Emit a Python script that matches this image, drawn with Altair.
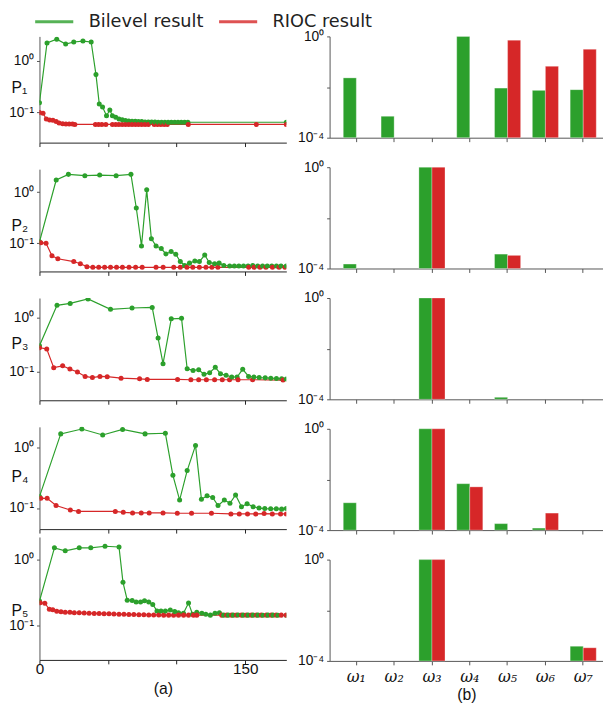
import altair as alt
import pandas as pd

SERIES = ["Bilevel result", "RIOC result"]
COLORS = ["#2ca02c", "#d62728"]
CATS = ["ω₁", "ω₂", "ω₃", "ω₄", "ω₅", "ω₆", "ω₇"]
PANEL_NAMES = ["P₁", "P₂", "P₃", "P₄", "P₅"]

# ---------------- left column: convergence curves ----------------
p1_green_t = [0, 5.5, 12.6, 19.1, 25.0, 31.7, 37.7, 41.2, 43.6, 46.0, 48.9, 51.3, 53.2, 55.6, 58.0, 60.4, 62.7,
              65.1, 67.5, 69.9, 72.2, 74.6, 77.0, 79.4, 81.8, 84.2, 86.6, 89.0, 91.4, 93.8, 96.2, 98.6, 101.0,
              103.4, 105.8, 108.2, 180]
p1_green_v = [0.155, 2.2, 2.6, 2.1, 2.3, 2.4, 2.3, 0.54, 0.147, 0.128, 0.087, 0.112, 0.087, 0.081, 0.075, 0.073, 0.070,
              0.069, 0.068, 0.068, 0.067, 0.067, 0.066, 0.066, 0.066, 0.066, 0.065, 0.065, 0.065, 0.065, 0.065, 0.065,
              0.065, 0.065, 0.065, 0.065, 0.065]
p1_red_t = [0, 2.6, 5.0, 7.4, 9.8, 12.2, 14.3, 16.9, 19.3, 21.7, 24.1, 25.8, 40.8, 43.1, 45.5, 48.4, 53.2, 55.6,
            57.9, 60.3, 62.7, 65.1, 67.5, 69.9, 72.2, 74.6, 77.0, 79.4, 83.7, 86.1, 88.5, 90.9, 93.2, 108.5, 158.1, 180]
p1_red_v = [0.1, 0.097, 0.075, 0.072, 0.071, 0.067, 0.063, 0.061, 0.060, 0.060, 0.060, 0.059, 0.059, 0.059, 0.059,
            0.059, 0.059, 0.059, 0.059, 0.059, 0.059, 0.059, 0.059, 0.059, 0.059, 0.059, 0.059, 0.059, 0.059, 0.059,
            0.059, 0.059, 0.059, 0.059, 0.059, 0.059]

p2_green_t = [0, 12.2, 21.1, 33.1, 43.9, 55.9, 66.7, 70.6, 74.4, 78.2, 81.6, 85.0, 88.8, 92.2, 96.0, 99.4, 102.7,
              105.8, 109.4, 113.3, 116.6, 120.5, 123.8, 127.7, 131.0, 134.4, 138.7, 142.1, 145.4, 148.8, 152.1,
              155.5, 159.1, 162.7, 166.1, 169.4, 172.8, 176.1, 180]
p2_green_v = [0.107, 1.73, 2.23, 2.1, 2.16, 2.1, 2.23, 0.49, 0.089, 1.11, 0.123, 0.089, 0.079, 0.062, 0.069, 0.061,
              0.044, 0.037, 0.041, 0.045, 0.044, 0.059, 0.042, 0.040, 0.041, 0.037, 0.036, 0.036, 0.036, 0.036,
              0.036, 0.037, 0.036, 0.036, 0.036, 0.036, 0.036, 0.036, 0.036]
p2_red_t = [1, 4.8, 9.1, 13.4, 25.0, 29.8, 34.6, 38.9, 43.2, 47.5, 51.8, 56.2, 60.5, 65.3, 70.1, 74.9, 85.0, 90.2,
            97.9, 102.7, 107.5, 111.8, 116.6, 121.4, 125.7, 130.1, 152.6, 156.5, 160.8, 165.1, 169.9, 174.7, 179.0]
p2_red_v = [0.103, 0.1, 0.057, 0.05, 0.044, 0.040, 0.035, 0.034, 0.034, 0.034, 0.034, 0.034, 0.034, 0.034, 0.034,
            0.034, 0.034, 0.034, 0.034, 0.034, 0.034, 0.034, 0.034, 0.034, 0.034, 0.034, 0.034, 0.034, 0.034, 0.034,
            0.034, 0.034, 0.034]

p3_green_t = [0, 12.8, 22.4, 35.4, 51.8, 67.5, 82.2, 86.5, 90.1, 96.1, 103.6, 107.7, 112.0, 116.1, 120.0, 124.1,
              128.2, 132.0, 136.1, 140.2, 144.1, 148.2, 152.5, 156.4, 160.2, 164.6, 168.7, 172.8, 176.6, 180]
p3_green_v = [0.305, 1.68, 1.82, 2.2, 1.42, 1.5, 1.54, 0.42, 0.142, 0.95, 0.97, 0.115, 0.107, 0.11, 0.091, 0.097,
              0.122, 0.093, 0.087, 0.081, 0.081, 0.112, 0.083, 0.081, 0.079, 0.078, 0.077, 0.076, 0.075, 0.074]
p3_red_t = [0, 5.3, 10.4, 16.9, 22.2, 27.7, 33.3, 38.6, 44.1, 49.4, 59.5, 73.0, 78.6, 100.7, 110.4, 116.1, 121.7,
            127.7, 133.3, 138.6, 144.8, 155.4, 177.6]
p3_red_v = [0.28, 0.265, 0.12, 0.13, 0.113, 0.1, 0.083, 0.079, 0.083, 0.082, 0.077, 0.075, 0.073, 0.073, 0.072,
            0.072, 0.072, 0.072, 0.072, 0.072, 0.072, 0.072, 0.071]

p4_green_t = [0, 15.5, 30.9, 46.1, 60.6, 77.0, 91.8, 97.3, 102.2, 107.7, 113.8, 118.1, 122.2, 126.3, 130.2, 134.8,
              138.9, 143.0, 147.3, 151.4, 155.8, 160.1, 164.3, 168.6, 172.7, 176.6, 180]
p4_green_v = [0.155, 1.71, 2.06, 1.64, 2.03, 1.71, 1.75, 0.35, 0.136, 0.42, 1.1, 0.14, 0.16, 0.15, 0.11, 0.136,
              0.12, 0.165, 0.105, 0.118, 0.105, 0.1, 0.098, 0.097, 0.097, 0.096, 0.098]
p4_red_t = [1, 5.6, 12.1, 22.5, 28.5, 55.3, 61.1, 67.9, 74.2, 80.0, 90.1, 100.5, 110.9, 125.4, 139.6, 145.7, 151.7,
            157.7, 163.8, 169.8, 175.8, 180]
p4_red_v = [0.145, 0.145, 0.11, 0.093, 0.088, 0.088, 0.085, 0.083, 0.083, 0.083, 0.083, 0.082, 0.082, 0.082, 0.08,
            0.08, 0.08, 0.08, 0.081, 0.08, 0.08, 0.08]

p5_green_t = [0, 10.9, 18.8, 29.0, 37.4, 47.8, 58.0, 60.9, 64.0, 67.6, 70.5, 73.7, 76.6, 79.7, 82.6, 85.7, 88.6,
              91.8, 95.4, 98.6, 101.4, 105.0, 108.7, 111.6, 114.7, 118.4, 121.3, 124.6, 128.0, 131.2, 134.3, 137.7,
              141.3, 144.9, 148.6, 152.2, 155.8, 159.4, 163.0, 166.7, 170.3, 173.9, 180]
p5_green_v = [0.237, 1.53, 1.38, 1.53, 1.53, 1.62, 1.58, 0.457, 0.245, 0.243, 0.23, 0.23, 0.24, 0.23, 0.211, 0.168,
              0.168, 0.168, 0.174, 0.165, 0.158, 0.155, 0.221, 0.15, 0.16, 0.155, 0.15, 0.145, 0.155, 0.158, 0.145,
              0.145, 0.145, 0.146, 0.145, 0.145, 0.145, 0.145, 0.144, 0.145, 0.145, 0.144, 0.144]
p5_red_t = [0.5, 3.9, 7.2, 9.7, 12.6, 15.7, 18.8, 22.2, 25.4, 29.0, 32.6, 36.2, 39.9, 43.5, 47.1, 50.7, 54.3, 58.0,
            61.6, 65.2, 68.8, 72.5, 76.1, 79.7, 83.3, 87.0, 90.6, 94.2, 97.8, 101.4, 105.1, 108.7, 112.3, 114.7,
            132.9, 136.5, 140.1, 143.7, 147.3, 151.0, 154.6, 158.2, 161.8, 165.5, 169.1, 172.7, 176.3, 180]
p5_red_v = [0.224, 0.22, 0.178, 0.175, 0.166, 0.163, 0.16, 0.16, 0.158, 0.157, 0.156, 0.155, 0.154, 0.153, 0.152,
            0.152, 0.151, 0.15, 0.149, 0.148, 0.148, 0.147, 0.147, 0.146, 0.146, 0.146, 0.145, 0.145, 0.145, 0.145,
            0.145, 0.145, 0.145, 0.145, 0.145, 0.145, 0.145, 0.145, 0.145, 0.145, 0.145, 0.145, 0.145, 0.145,
            0.145, 0.145, 0.145, 0.145]

# ---------------- right column: bar values (None = no bar) ----------------
bilevel_bars = [
    [0.023, 7e-4, None, 1.0, 0.0091, 0.0074, 0.0079],
    [1.5e-4, None, 1.0, None, 3.7e-4, None, None],
    [None, None, 1.0, None, 1.2e-4, None, None],
    [1.2e-3, None, 1.0, 6.8e-3, 1.8e-4, 1.2e-4, None],
    [None, None, 1.0, None, None, None, 3.8e-4],
]
rioc_bars = [
    [None, None, None, None, 0.71, 0.066, 0.31],
    [None, None, 1.0, None, 3.3e-4, None, None],
    [None, None, 1.0, None, None, None, None],
    [None, None, 1.0, 5.1e-3, None, 4.7e-4, None],
    [None, None, 1.0, None, None, None, 3.3e-4],
]

# layout (presentation only)
LEFT_W, RIGHT_W = 251, 278
left_heights = [108, 104, 104, 104, 125]
left_domains = [[10 ** -1.58, 10 ** 0.47], [10 ** -1.55, 10 ** 0.45], [10 ** -1.52, 10 ** 0.36],
                [10 ** -1.35, 10 ** 0.35], [10 ** -1.52, 10 ** 0.35]]
left_title_y = [52, 57, 46, 51, 75]
RIGHT_H = 103

LEG = alt.Legend(orient="none", legendX=-6, legendY=-36, direction="horizontal", title=None,
                 symbolType="stroke", symbolSize=1500, symbolStrokeWidth=3, symbolOpacity=0.8,
                 labelFontSize=18, labelFont="DejaVu Sans", labelColor="#222",
                 columnPadding=9, labelOffset=14, padding=0)
color_enc = alt.Color("series:N", scale=alt.Scale(domain=SERIES, range=COLORS), legend=LEG)

line_sets = [
    (p1_green_t, p1_green_v, p1_red_t, p1_red_v),
    (p2_green_t, p2_green_v, p2_red_t, p2_red_v),
    (p3_green_t, p3_green_v, p3_red_t, p3_red_v),
    (p4_green_t, p4_green_v, p4_red_t, p4_red_v),
    (p5_green_t, p5_green_v, p5_red_t, p5_red_v),
]


def left_panel(i):
    gt, gv, rt, rv = line_sets[i]
    df = pd.DataFrame({"t": gt + rt, "v": gv + rv,
                       "series": [SERIES[0]] * len(gt) + [SERIES[1]] * len(rt)})
    bottom = i == 4
    xaxis = alt.Axis(values=[0, 50, 100, 150], grid=False, tickSize=4, labelFlush=False,
                     labels=bottom, labelExpr="datum.value == 0 || datum.value == 150 ? datum.label : ''",
                     labelFontSize=15.5, labelPadding=-2, domainColor="#222", tickColor="#222",
                     title="(a)" if bottom else None, titleFontSize=16, titlePadding=4)
    yaxis = alt.Axis(values=[0.1, 1], labelExpr="datum.value > 0.5 ? '10⁰' : '10⁻¹'", grid=False,
                     tickSize=3, labelPadding=3, title=PANEL_NAMES[i], titleAngle=0, titleX=-29,
                     titleY=left_title_y[i], titleAlign="left", titleBaseline="middle", titleFontSize=16)
    return alt.Chart(df).mark_line(strokeWidth=1.2, clip=True,
                                   point=alt.OverlayMarkDef(filled=True, size=26, opacity=1)).encode(
        x=alt.X("t:Q", scale=alt.Scale(domain=[0, 180], nice=False, zero=False), axis=xaxis),
        y=alt.Y("v:Q", scale=alt.Scale(type="log", domain=left_domains[i], nice=False), axis=yaxis),
        color=color_enc,
        order=alt.Order("t:Q"),
    ).properties(width=LEFT_W, height=left_heights[i])


def right_panel(i):
    rows = []
    for c, g, r in zip(CATS, bilevel_bars[i], rioc_bars[i]):
        if g is not None:
            rows.append({"cat": c, "series": SERIES[0], "v": g})
        if r is not None:
            rows.append({"cat": c, "series": SERIES[1], "v": r})
    df = pd.DataFrame(rows)
    bottom = i == 4
    xaxis = alt.Axis(labels=bottom, labelAngle=0, tickSize=4, grid=False, labelFont="DejaVu Serif",
                     labelFontStyle="italic", labelFontSize=16, labelPadding=4,
                     title="(b)" if bottom else None, titleFontSize=16, titlePadding=2)
    yaxis = alt.Axis(values=[1e-4, 1e-2, 1], grid=False, tickSize=3, labelPadding=3, title=None,
                     labelExpr="datum.value > 0.5 ? '10⁰' : (datum.value < 0.001 ? '10⁻⁴' : '')")
    ch = alt.Chart(df).mark_bar(stroke="white", strokeWidth=0.6, strokeOpacity=0.5).encode(
        x=alt.X("cat:N", sort=CATS, scale=alt.Scale(domain=CATS, paddingInner=0.31, paddingOuter=0.27, align=0.67),
                axis=xaxis),
        xOffset=alt.XOffset("series:N", scale=alt.Scale(domain=SERIES, paddingInner=0, paddingOuter=0)),
        y=alt.Y("v:Q", scale=alt.Scale(type="log", domain=[1e-4, 1], nice=False), axis=yaxis),
        y2=alt.datum(1e-4),
        color=color_enc,
    ).properties(width=RIGHT_W, height=RIGHT_H)
    if i == 0:
        ch = ch.properties(title=alt.TitleParams(" ", fontSize=2, offset=1))
    return ch


left_col = alt.vconcat(
    alt.vconcat(*[left_panel(i) for i in range(4)], spacing=22),
    left_panel(4),
    spacing=3,
)
right_col = alt.vconcat(*[right_panel(i) for i in range(5)], spacing=16)

chart = alt.hconcat(left_col, right_col, spacing=11).properties(
    padding={"left": 0, "top": -13, "right": 0, "bottom": 0}
).configure_view(stroke=None).configure_axis(
    labelFont="Liberation Sans", labelFontSize=14, labelColor="#111",
    titleFont="Liberation Sans", titleFontWeight="normal", titleColor="#111",
    domainColor="#555", tickColor="#555", domainWidth=1,
)

chart.save("out.html", embed_options={"renderer": "svg", "actions": False})
